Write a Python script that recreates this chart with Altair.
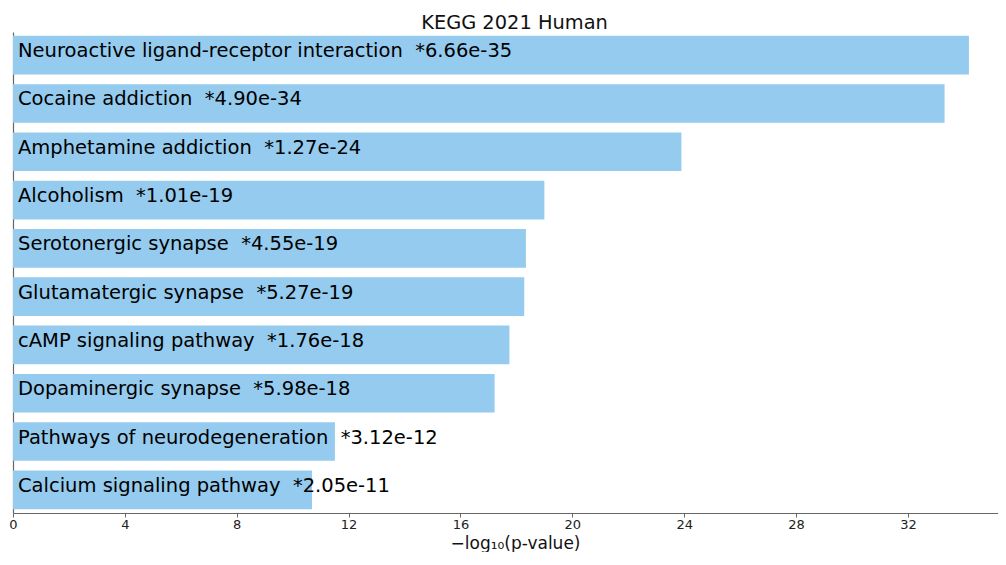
import altair as alt
import pandas as pd

terms = [
    "Neuroactive ligand-receptor interaction",
    "Cocaine addiction",
    "Amphetamine addiction",
    "Alcoholism",
    "Serotonergic synapse",
    "Glutamatergic synapse",
    "cAMP signaling pathway",
    "Dopaminergic synapse",
    "Pathways of neurodegeneration",
    "Calcium signaling pathway",
]
pvals = ["6.66e-35", "4.90e-34", "1.27e-24", "1.01e-19", "4.55e-19",
         "5.27e-19", "1.76e-18", "5.98e-18", "3.12e-12", "2.05e-11"]
neglog = [34.18, 33.31, 23.90, 19.00, 18.34, 18.28, 17.75, 17.22, 11.51, 10.69]
xticks = [0, 4, 8, 12, 16, 20, 24, 28, 32]

df = pd.DataFrame({
    "term": terms,
    "value": neglog,
    "label": [f"{t}\u00a0\u00a0*{p}" for t, p in zip(terms, pvals)],
})

FONT = "DejaVu Sans"

y = alt.Y("term:N", sort=None,
          scale=alt.Scale(paddingInner=0.2, paddingOuter=0.08),
          axis=alt.Axis(labels=False, ticks=False, title=None, domain=True,
                        domainColor="#666666", domainWidth=1.2, grid=False))
x = alt.X("value:Q",
          scale=alt.Scale(domain=[0, 35.22], nice=False, zero=True),
          axis=alt.Axis(values=xticks, grid=False, title="\u2212log\u2081\u2080(p-value)",
                        domainColor="#666666", domainWidth=1.2,
                        tickColor="#666666", tickSize=4, tickWidth=1,
                        labelFont=FONT, labelFontSize=13, labelColor="#222222",
                        labelPadding=1, labelFlush=False,
                        titleFont=FONT, titleFontSize=17, titleFontWeight="normal",
                        titleColor="#111111", titleX=502, titleY=35,
                        titleAlign="center", titleBaseline="alphabetic"))

bars = alt.Chart(df).mark_bar(color="#95CBEE").encode(x=x, y=y)
texts = alt.Chart(df).mark_text(
    align="left", baseline="middle", dx=5, dy=-4,
    font=FONT, fontSize=19.5, color="#000000"
).encode(x=alt.datum(0), y=alt.Y("term:N", sort=None), text="label:N")

chart = (bars + texts).properties(
    width=985, height=481,
    title=alt.TitleParams("KEGG 2021 Human", font=FONT, fontSize=19.4,
                          fontWeight="normal", color="#111111",
                          anchor="middle", dx=9, offset=-16,
                          baseline="alphabetic"),
    autosize=alt.AutoSizeParams(type="none"),
    padding={"left": 5, "top": 24, "right": 0, "bottom": 39},
).configure_view(stroke=None)

chart.save("out.html", embed_options={"renderer": "svg", "actions": False})
